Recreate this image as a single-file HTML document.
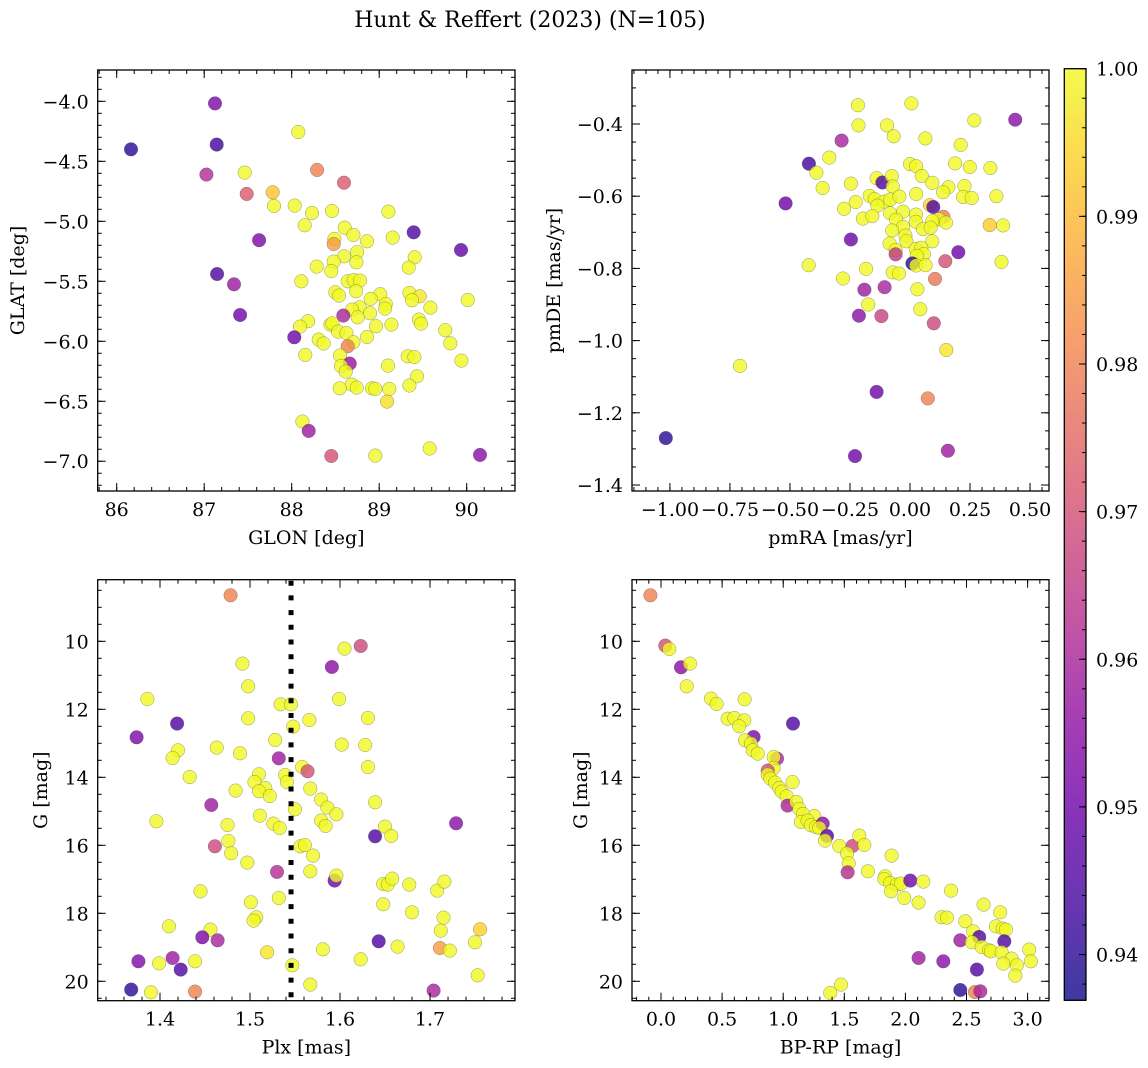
<!DOCTYPE html>
<html><head><meta charset="utf-8"><style>
html,body{margin:0;padding:0;background:#fff;}
svg{display:block;font-family:"DejaVu Serif","Liberation Serif",serif;}
</style></head><body>
<svg id="fig" width="1148" height="1068" viewBox="0 0 1148 1068" xmlns="http://www.w3.org/2000/svg">
<text x="530" y="27" font-size="22" text-anchor="middle">Hunt &amp; Reffert (2023) (N=105)</text>
</svg>
<script>
// ---- Panel 1: GLON vs GLAT
const p1Glon=[86.164,87.124,87.143,87.025,87.463,88.076,88.290,88.598,87.486,87.783,87.798,88.034,88.232,88.461,89.105,88.149,88.606,87.627,89.394,89.935,88.705,88.488,88.480,88.861,89.154,88.747,88.598,89.406,88.739,88.480,88.286,88.453,89.337,87.147,87.341,88.110,88.640,88.709,88.781,88.736,88.499,88.541,89.013,88.903,89.345,89.463,89.375,90.011,89.074,89.067,88.777,88.690,89.585,87.410,88.590,88.895,88.754,89.455,89.478,88.187,88.095,88.442,88.465,88.530,88.625,88.964,89.139,89.756,88.030,88.309,88.366,88.861,88.705,88.640,89.813,88.156,88.552,89.326,89.402,88.663,88.564,88.617,89.101,89.939,89.432,88.686,88.549,88.743,88.918,88.956,89.116,89.345,89.090,88.122,88.194,88.453,88.956,89.577,90.152];
const p1Glat=[-4.400,-4.017,-4.361,-4.611,-4.594,-4.256,-4.572,-4.678,-4.772,-4.758,-4.872,-4.869,-4.931,-4.914,-4.919,-5.033,-5.053,-5.158,-5.092,-5.239,-5.114,-5.147,-5.189,-5.167,-5.136,-5.258,-5.292,-5.300,-5.342,-5.336,-5.378,-5.414,-5.386,-5.439,-5.525,-5.500,-5.500,-5.489,-5.494,-5.583,-5.592,-5.619,-5.608,-5.647,-5.597,-5.625,-5.658,-5.656,-5.689,-5.728,-5.717,-5.736,-5.719,-5.781,-5.786,-5.767,-5.800,-5.819,-5.853,-5.833,-5.878,-5.861,-5.850,-5.919,-5.931,-5.875,-5.861,-5.908,-5.967,-5.986,-6.019,-5.964,-6.008,-6.042,-6.017,-6.114,-6.119,-6.125,-6.131,-6.186,-6.206,-6.253,-6.203,-6.161,-6.292,-6.361,-6.392,-6.386,-6.392,-6.397,-6.397,-6.369,-6.503,-6.669,-6.747,-6.956,-6.953,-6.894,-6.947];
const p1Prob=[0.940,0.952,0.943,0.962,1,1,0.980,0.972,0.972,0.992,1,1,1,1,1,1,1,0.952,0.945,0.948,1,1,0.985,1,1,1,1,1,1,1,1,1,1,0.945,0.958,1,1,1,1,1,1,1,1,1,1,0.997,1,1,1,1,1,1,1,0.950,0.960,1,1,1,1,1,1,1,1,1,1,1,1,1,0.950,1,1,1,1,0.980,1,1,1,1,1,0.957,1,1,1,1,1,1,1,1,1,1,1,1,0.996,1,0.958,0.970,1,1,0.955];
// ---- Panel 2: pmRA vs pmDE
const p2PmRA=[-1.017,-0.708,-0.518,-0.421,-0.285,-0.217,-0.215,-0.336,-0.390,-0.364,-0.246,-0.096,-0.068,0.006,0.064,0.268,0.438,0.211,0.188,0.249,0.335,0.0,0.026,0.049,0.093,-0.139,-0.115,-0.076,-0.072,0.160,0.138,0.227,0.221,0.257,0.360,0.026,-0.226,-0.275,-0.168,-0.147,-0.108,-0.082,-0.044,-0.136,-0.196,-0.157,-0.083,-0.029,0.025,0.083,0.097,0.139,0.119,0.150,0.332,0.388,-0.058,0.024,0.093,-0.029,-0.074,0.054,0.086,-0.019,-0.015,0.093,-0.246,-0.085,-0.060,-0.060,0.024,0.047,0.058,0.028,0.010,0.026,0.065,0.201,0.147,0.381,-0.422,-0.183,-0.072,-0.046,-0.279,0.104,-0.190,-0.106,0.031,-0.174,-0.213,-0.119,0.043,0.099,0.151,-0.139,0.074,-0.229,0.158];
const p2PmDE=[-1.270,-1.070,-0.620,-0.510,-0.446,-0.348,-0.404,-0.493,-0.535,-0.577,-0.565,-0.404,-0.434,-0.343,-0.440,-0.390,-0.388,-0.458,-0.509,-0.519,-0.522,-0.511,-0.517,-0.544,-0.563,-0.550,-0.562,-0.544,-0.573,-0.575,-0.589,-0.572,-0.602,-0.605,-0.600,-0.594,-0.616,-0.635,-0.599,-0.608,-0.615,-0.609,-0.601,-0.626,-0.662,-0.655,-0.647,-0.643,-0.651,-0.625,-0.630,-0.657,-0.664,-0.673,-0.680,-0.681,-0.665,-0.671,-0.669,-0.685,-0.695,-0.691,-0.687,-0.709,-0.725,-0.725,-0.720,-0.731,-0.749,-0.761,-0.746,-0.743,-0.760,-0.765,-0.786,-0.792,-0.791,-0.755,-0.780,-0.782,-0.791,-0.801,-0.811,-0.814,-0.828,-0.829,-0.859,-0.852,-0.858,-0.900,-0.931,-0.932,-0.913,-0.952,-1.026,-1.142,-1.160,-1.320,-1.305];
const p2Prob=[0.940,1,0.950,0.943,0.960,1,1,1,1,1,1,1,1,1,1,1,0.955,1,1,1,1,1,1,1,1,1,0.945,1,1,1,1,1,1,1,1,1,1,1,1,1,1,1,1,1,1,1,1,1,1,0.995,0.945,0.980,1,1,0.993,1,1,1,1,1,1,1,1,1,1,1,0.950,1,1,0.965,1,1,1,1,0.940,1,1,0.950,0.970,1,1,1,1,1,1,0.978,0.958,0.960,1,1,0.955,0.967,1,0.968,0.997,0.950,0.980,0.950,0.958];
// ---- Panel 3: Plx vs G
const p3Plx=[1.4785,1.623,1.605,1.591,1.4915,1.498,1.386,1.599,1.534,1.5456,1.419,1.498,1.566,1.631,1.548,1.374,1.528,1.602,1.628,1.463,1.420,1.414,1.489,1.532,1.631,1.558,1.564,1.433,1.510,1.539,1.505,1.541,1.517,1.510,1.484,1.522,1.567,1.579,1.586,1.550,1.639,1.457,1.596,1.396,1.511,1.526,1.533,1.579,1.584,1.475,1.729,1.650,1.639,1.657,1.476,1.461,1.479,1.556,1.561,1.570,1.497,1.530,1.567,1.594,1.596,1.648,1.653,1.658,1.677,1.708,1.716,1.445,1.501,1.532,1.648,1.680,1.507,1.504,1.715,1.410,1.456,1.712,1.7556,1.447,1.464,1.643,1.750,1.664,1.711,1.722,1.581,1.519,1.623,1.376,1.399,1.414,1.439,1.423,1.547,1.753,1.567,1.368,1.390,1.439,1.704];
const p3G=[8.647,10.137,10.216,10.755,10.657,11.324,11.696,11.696,11.853,11.853,12.422,12.265,12.314,12.255,12.51,12.824,12.902,13.039,13.049,13.127,13.206,13.431,13.294,13.441,13.696,13.696,13.824,13.99,13.912,13.931,14.137,14.137,14.314,14.412,14.392,14.549,14.333,14.657,14.892,14.941,14.735,14.814,15.088,15.294,15.127,15.363,15.49,15.275,15.431,15.402,15.353,15.451,15.735,15.725,15.873,16.029,16.235,16.029,15.99,16.304,16.51,16.784,16.765,17.039,16.892,17.137,17.157,16.98,17.157,17.333,17.069,17.353,17.676,17.549,17.735,17.971,18.118,18.216,18.127,18.382,18.48,18.51,18.47,18.706,18.794,18.824,18.853,18.98,19.02,19.098,19.059,19.147,19.353,19.412,19.471,19.314,19.412,19.657,19.529,19.824,20.098,20.245,20.324,20.304,20.275];
const p3Prob=[0.980,0.968,1,0.955,1,1,1,1,1,1,0.945,1,1,1,1,0.952,1,1,1,1,1,1,1,0.958,1,1,0.970,1,1,1,1,1,1,1,1,1,1,1,1,1,1,0.958,1,1,1,1,1,1,1,1,0.955,1,0.945,1,1,0.968,1,1,1,1,1,0.962,1,0.950,1,1,1,1,1,1,1,1,1,1,1,1,1,1,1,1,1,1,0.994,0.952,0.960,0.945,1,1,0.985,1,1,0.997,1,0.953,1,0.958,1,0.945,1,1,1,0.940,1,0.980,0.960];
const plxRef=[1.5456];
// ---- Panel 4: BP-RP vs G
const p4Color=[-0.087,0.035,0.068,0.164,0.237,0.210,0.409,0.455,0.684,0.545,0.600,0.682,0.641,1.080,0.758,0.687,0.736,0.750,0.791,0.949,0.922,0.922,0.873,0.873,0.895,1.077,0.933,0.968,0.987,1.028,1.036,1.107,1.132,1.254,1.162,1.145,1.200,1.227,1.268,1.323,1.295,1.358,1.342,1.459,1.568,1.623,1.664,1.522,1.536,1.527,1.693,1.887,1.835,1.827,1.876,1.931,1.964,2.040,2.146,1.882,1.991,2.108,2.373,2.296,2.340,2.490,2.640,2.776,2.741,2.796,2.822,2.555,2.604,2.449,2.809,2.544,2.624,2.686,2.700,2.787,3.013,2.869,3.027,2.801,2.912,2.108,2.310,2.585,2.899,1.473,1.385,2.449,2.569,2.613];
const p4G=[8.647,10.127,10.225,10.765,10.657,11.324,11.686,11.843,11.706,12.275,12.255,12.324,12.5,12.422,12.814,12.912,13.01,13.206,13.304,13.451,13.402,13.725,13.804,13.922,14.039,14.137,14.157,14.314,14.422,14.559,14.833,14.725,14.931,15.137,15.078,15.314,15.275,15.412,15.461,15.363,15.49,15.725,15.863,16.02,16.02,15.716,15.99,16.245,16.529,16.794,16.765,16.304,16.912,16.99,17.108,17.157,17.127,17.039,17.069,17.353,17.549,17.686,17.333,18.118,18.127,18.235,17.745,17.971,18.382,18.451,18.48,18.529,18.696,18.794,18.824,18.853,18.99,19.088,19.118,19.147,19.069,19.333,19.412,19.48,19.529,19.314,19.412,19.657,19.833,20.098,20.343,20.255,20.314,20.294];
const p4Prob=[0.980,0.970,1,0.955,1,1,1,1,1,1,1,1,1,0.945,0.952,1,1,1,1,0.960,1,1,0.970,1,1,1,1,1,1,1,0.960,1,1,1,1,1,1,1,1,0.955,1,0.945,1,1,0.968,1,1,1,1,0.962,1,1,1,1,1,1,1,0.950,1,1,1,1,1,1,1,1,1,1,1,1,1,1,0.945,0.958,0.945,1,1,1,1,1,1,1,1,1,1,0.958,0.955,0.945,1,1,1,0.940,0.980,0.960];
// ---- Colorbar
const cbTicks=[1.00,0.99,0.98,0.97,0.96,0.95,0.94];
const cbMin=0.9369, cbMax=1.0;

const NS="http://www.w3.org/2000/svg";
const svg=document.getElementById('fig');
const TF=19;
function mk(tag,attrs,parent){const e=document.createElementNS(NS,tag);for(const k in attrs)e.setAttribute(k,attrs[k]);(parent||svg).appendChild(e);return e;}
const plasma=[[13,8,135],[65,4,157],[106,0,168],[143,13,164],[177,42,144],[204,71,120],[225,100,98],[242,132,75],[252,166,54],[252,206,37],[240,249,33]];
function cmap(v){let t=(v-cbMin)/(cbMax-cbMin);t=Math.max(0,Math.min(1,t));const f=t*10,i=Math.min(9,Math.floor(f)),r=f-i;const a=plasma[i],b=plasma[i+1];
 return 'rgb('+a.map((c,k)=>Math.round(c+(b[k]-c)*r)).join(',')+')';}
function fmt(v,d){const s=Math.abs(v).toFixed(d);return (v<-1e-9?'\u2212':'')+s;}

function panel(cfg){
 const g=mk('g',{});
 
 
 const {x0,x1,y0,y1}=cfg.box;
 const sx=v=>x0+(v-cfg.xd[0])/(cfg.xd[1]-cfg.xd[0])*(x1-x0);
 const sy=v=>y0+(v-cfg.yd[0])/(cfg.yd[1]-cfg.yd[0])*(y1-y0);
 const clip='clip-'+cfg.name;
 const cp=mk('clipPath',{id:clip},g);mk('rect',{x:x0,y:y0,width:x1-x0,height:y1-y0},cp);
 const pts=mk('g',{'clip-path':'url(#'+clip+')'},g);
 
 
 cfg.xs.forEach((xv,i)=>{
  const c=mk('circle',{cx:sx(xv).toFixed(1),cy:sy(cfg.ys[i]).toFixed(1),r:6.8,fill:cmap(cfg.cs[i]),'fill-opacity':0.8,stroke:'rgba(70,70,70,0.55)','stroke-width':0.5},pts);
  
  
 });
 if(cfg.vline!==undefined){
  const l=mk('line',{x1:sx(cfg.vline),x2:sx(cfg.vline),y1:y0+1,y2:y1,stroke:'#000','stroke-width':5,'stroke-dasharray':'5 9.7'},g);
  
  
 }
 const tg=mk('g',{stroke:'#000','stroke-width':1},g);
 const lo=Math.min(cfg.xd[0],cfg.xd[1]),hi=Math.max(cfg.xd[0],cfg.xd[1]);
 function range(a,b,st){const r=[];for(let k=Math.ceil(a/st-1e-6);k*st<=b+1e-9;k++)r.push(+(k*st).toFixed(6));return r;}
 range(lo,hi,cfg.xminor).forEach(v=>{const p=sx(v);mk('line',{x1:p,x2:p,y1:y1,y2:y1-4},tg);mk('line',{x1:p,x2:p,y1:y0,y2:y0+4},tg);});
 range(lo,hi,cfg.xmajor).forEach(v=>{const p=sx(v);mk('line',{x1:p,x2:p,y1:y1,y2:y1-8},tg);mk('line',{x1:p,x2:p,y1:y0,y2:y0+8},tg);
  const t=mk('text',{x:p,y:y1+25,'font-size':TF,'text-anchor':'middle'},g);t.textContent=fmt(v,cfg.xdec);
  });
 const ylo=Math.min(cfg.yd[0],cfg.yd[1]),yhi=Math.max(cfg.yd[0],cfg.yd[1]);
 range(ylo,yhi,cfg.yminor).forEach(v=>{const p=sy(v);mk('line',{x1:x0,x2:x0+4,y1:p,y2:p},tg);mk('line',{x1:x1,x2:x1-4,y1:p,y2:p},tg);});
 range(ylo,yhi,cfg.ymajor).forEach(v=>{const p=sy(v);mk('line',{x1:x0,x2:x0+8,y1:p,y2:p},tg);mk('line',{x1:x1,x2:x1-8,y1:p,y2:p},tg);
  const t=mk('text',{x:x0-9,y:p+7,'font-size':TF,'text-anchor':'end'},g);t.textContent=fmt(v,cfg.ydec);
  });
 const fr=mk('rect',{x:x0,y:y0,width:x1-x0,height:y1-y0,fill:'none',stroke:'#000','stroke-width':1.3},g);
 
 const xl=mk('text',{x:(x0+x1)/2,y:y1+53,'font-size':TF,'text-anchor':'middle'},g);xl.textContent=cfg.xlabel;
 
 const yl=mk('text',{x:0,y:0,'font-size':TF,'text-anchor':'middle',transform:'translate('+cfg.ylx+','+((y0+y1)/2)+') rotate(-90)'},g);yl.textContent=cfg.ylabel;
 
}
panel({name:'glon-glat-panel',box:{x0:97.7,x1:515,y0:70,y1:491},xd:[85.783,90.552],yd:[-3.739,-7.248],xs:p1Glon,ys:p1Glat,cs:p1Prob,
 xmajor:1,xminor:0.2,xdec:0,ymajor:0.5,yminor:0.1,ydec:1,xlabel:'GLON [deg]',ylabel:'GLAT [deg]',ylx:24});
panel({name:'pm-panel',box:{x0:632,x1:1049,y0:70,y1:491},xd:[-1.158,0.579],yd:[-0.2504,-1.4166],xs:p2PmRA,ys:p2PmDE,cs:p2Prob,
 xmajor:0.25,xminor:0.05,xdec:2,ymajor:0.2,yminor:0.05,ydec:1,xlabel:'pmRA [mas/yr]',ylabel:'pmDE [mas/yr]',ylx:560});
panel({name:'plx-g-panel',box:{x0:97.7,x1:515,y0:579.7,y1:1000.7},xd:[1.3308,1.7944],yd:[8.188,20.571],xs:p3Plx,ys:p3G,cs:p3Prob,vline:plxRef[0],
 xmajor:0.1,xminor:0.02,xdec:1,ymajor:2,yminor:0.5,ydec:0,xlabel:'Plx [mas]',ylabel:'G [mag]',ylx:47});
panel({name:'cmd-panel',box:{x0:632,x1:1049,y0:579.7,y1:1000.7},xd:[-0.2373,3.175],yd:[8.188,20.571],xs:p4Color,ys:p4G,cs:p4Prob,
 xmajor:0.5,xminor:0.1,xdec:1,ymajor:2,yminor:0.5,ydec:0,xlabel:'BP-RP [mag]',ylabel:'G [mag]',ylx:587});

(function(){
 const x0=1064.3,x1=1086,y0=68.7,y1=1000.3;
 const cb=mk('g',{});
 
 const defs=mk('defs',{},cb);
 const lg=mk('linearGradient',{id:'cbg',x1:0,y1:1,x2:0,y2:0},defs);
 plasma.forEach((c,i)=>mk('stop',{offset:(i/10),'stop-color':'rgb('+c.join(',')+')','stop-opacity':0.8},lg));
 mk('rect',{x:x0,y:y0,width:x1-x0,height:y1-y0,fill:'url(#cbg)'},cb);
 const sy=v=>y0+(cbMax-v)/(cbMax-cbMin)*(y1-y0);
 for(let k=0;k<=31;k++){const v=cbMax-k*0.002;if(v<cbMin)break;const p=sy(v);mk('line',{x1:x1,x2:x1-4,y1:p,y2:p,stroke:'#000','stroke-width':1},cb);}
 cbTicks.forEach(v=>{const p=sy(v);mk('line',{x1:x1,x2:x1-7,y1:p,y2:p,stroke:'#000','stroke-width':1},cb);
  const t=mk('text',{x:x1+10,y:p+7,'font-size':TF},cb);t.textContent=v.toFixed(2);
  });
 mk('rect',{x:x0,y:y0,width:x1-x0,height:y1-y0,fill:'none',stroke:'#000','stroke-width':1.3},cb);
})();
</script>
</body></html>
